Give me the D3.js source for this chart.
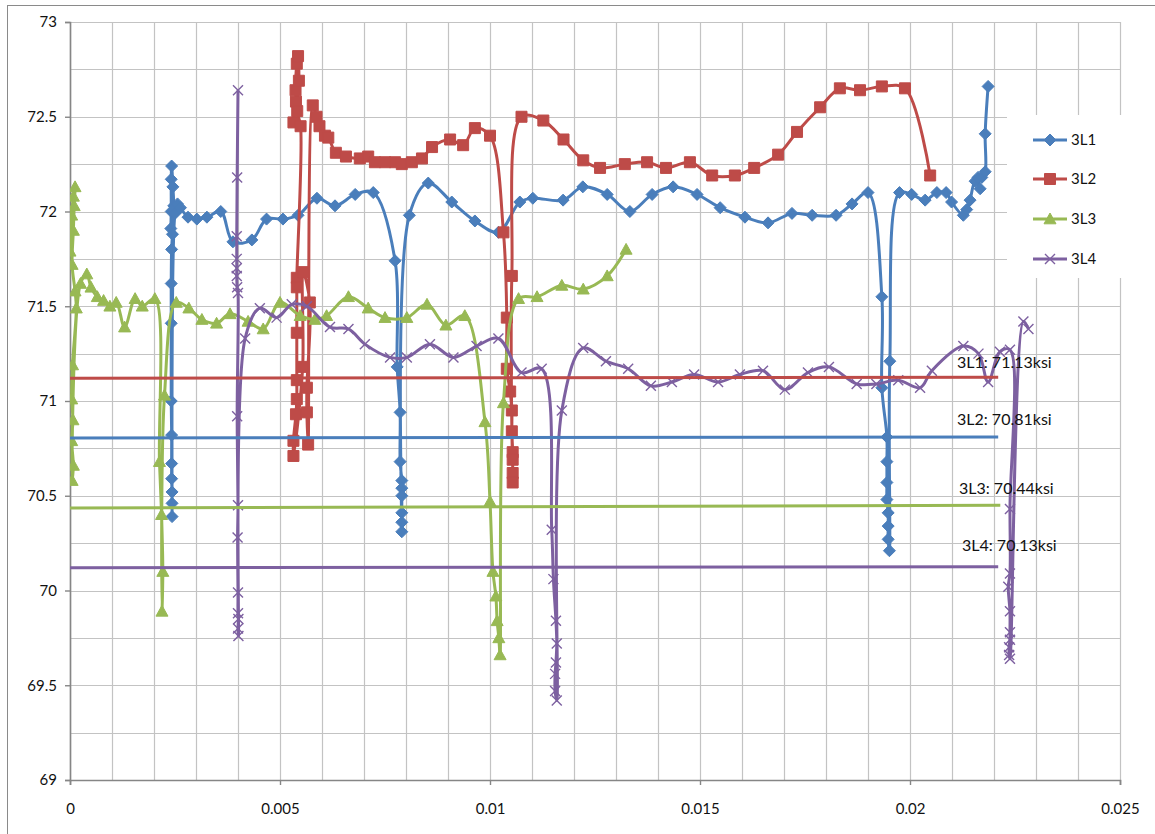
<!DOCTYPE html>
<html><head><meta charset="utf-8">
<script src="https://cdn.jsdelivr.net/npm/d3@7"></script>
<style>body{margin:0;background:#fff;} svg{display:block;font-family:Lato,"Open Sans",sans-serif;}</style>
</head><body><svg id="chart" width="1155" height="834"></svg>
<script>
// ---------- data ----------
const seriesNames = ["3L1", "3L2", "3L3", "3L4"];
const s3L1 = [
[0.00240,71.91],[0.00241,72.00],[0.00241,72.17],[0.00242,72.24],[0.00245,72.13],[0.00247,72.03],[0.00244,71.88],[0.00242,71.80],[0.00241,71.62],[0.00241,71.41],[0.00241,71.00],[0.00242,70.82],[0.00242,70.67],[0.00242,70.59],[0.00243,70.52],[0.00243,70.46],[0.00243,70.39],
[0.00250,71.99],[0.00256,72.04],[0.00263,72.02],[0.00281,71.97],[0.00302,71.96],[0.00326,71.97],[0.00359,72.00],[0.00388,71.84],[0.00433,71.85],[0.00468,71.96],[0.00507,71.96],[0.00543,71.98],[0.00588,72.07],[0.00631,72.03],[0.00679,72.09],[0.00722,72.10],
[0.00774,71.74],[0.00779,71.18],[0.00786,70.94],[0.00786,70.68],[0.00790,70.58],[0.00790,70.54],[0.00790,70.50],[0.00790,70.41],[0.00790,70.36],[0.00790,70.31],
[0.00808,71.98],[0.00853,72.15],[0.00909,72.05],[0.00964,71.95],[0.01020,71.89],[0.01071,72.05],[0.01102,72.07],[0.01174,72.06],[0.01221,72.13],[0.01279,72.09],[0.01333,72.00],[0.01386,72.09],[0.01436,72.13],[0.01493,72.09],[0.01548,72.02],[0.01607,71.97],[0.01662,71.94],[0.01719,71.99],[0.01767,71.98],[0.01824,71.98],[0.01862,72.04],[0.01900,72.10],
[0.01933,71.55],[0.01933,71.07],[0.01945,70.81],[0.01945,70.68],[0.01945,70.57],[0.01945,70.48],[0.01948,70.41],[0.01948,70.34],[0.01948,70.27],[0.01951,70.21],
[0.01952,71.21],[0.01975,72.10],[0.02004,72.09],[0.02036,72.06],[0.02064,72.10],[0.02086,72.10],[0.02099,72.05],[0.02127,71.98],[0.02135,72.01],[0.02143,72.06],[0.02155,72.16],[0.02167,72.12],[0.02162,72.18],[0.02171,72.18],[0.02179,72.21],[0.02179,72.41],[0.02186,72.66]
];
const s3L2 = [
[0.00532,72.47],[0.00538,72.58],[0.00537,72.64],[0.00540,72.78],[0.00543,72.82],[0.00545,72.69],[0.00541,72.53],[0.00549,72.45],
[0.00540,71.65],[0.00540,71.60],[0.00540,71.36],[0.00540,71.11],[0.00540,71.01],[0.00538,70.93],[0.00532,70.79],[0.00532,70.71],
[0.00554,71.18],[0.00555,71.68],[0.00571,71.52],[0.00564,71.07],[0.00564,70.94],[0.00567,70.77],
[0.00578,72.56],[0.00587,72.50],[0.00594,72.45],[0.00607,72.40],[0.00615,72.39],[0.00633,72.31],[0.00657,72.29],[0.00690,72.28],[0.00710,72.29],[0.00726,72.26],[0.00750,72.26],[0.00774,72.26],[0.00790,72.25],[0.00814,72.26],[0.00838,72.28],[0.00862,72.34],[0.00905,72.38],[0.00936,72.35],[0.00964,72.44],[0.01000,72.40],
[0.01032,71.89],[0.01040,71.44],[0.01040,71.17],[0.01048,71.05],[0.01052,70.95],[0.01052,70.84],[0.01054,70.73],[0.01054,70.69],[0.01054,70.62],[0.01054,70.57],
[0.01052,71.66],[0.01075,72.50],[0.01127,72.48],[0.01175,72.38],[0.01222,72.27],[0.01262,72.23],[0.01321,72.25],[0.01374,72.26],[0.01419,72.23],[0.01476,72.26],[0.01529,72.19],[0.01583,72.19],[0.01629,72.23],[0.01686,72.30],[0.01731,72.42],[0.01786,72.55],[0.01833,72.65],[0.01881,72.64],[0.01933,72.66],[0.01988,72.65],[0.02048,72.19]
];
const s3L3 = [
[0.00000,71.79],[0.00004,71.98],[0.00008,72.08],[0.00012,72.13],[0.00010,72.03],[0.00008,71.90],[0.00005,71.72],[0.00012,71.58],[0.00015,71.49],[0.00006,71.19],[0.00004,71.01],[0.00007,70.90],[0.00004,70.79],[0.00008,70.66],[0.00005,70.58],
[0.00025,71.62],[0.00040,71.67],[0.00050,71.60],[0.00065,71.55],[0.00080,71.53],[0.00095,71.50],[0.00110,71.52],[0.00130,71.39],[0.00155,71.54],[0.00172,71.50],[0.00202,71.54],
[0.00213,70.68],[0.00218,70.40],[0.00221,70.10],[0.00219,69.89],[0.00225,71.03],
[0.00253,71.52],[0.00283,71.49],[0.00314,71.43],[0.00349,71.41],[0.00381,71.46],[0.00424,71.42],[0.00460,71.38],[0.00500,71.52],[0.00548,71.45],[0.00583,71.43],[0.00611,71.45],[0.00663,71.55],[0.00710,71.49],[0.00750,71.44],[0.00802,71.44],[0.00850,71.51],[0.00895,71.40],[0.00940,71.45],
[0.00988,70.89],[0.01000,70.47],[0.01007,70.10],[0.01014,69.97],[0.01017,69.84],[0.01021,69.75],[0.01024,69.66],[0.01032,70.99],
[0.01068,71.54],[0.01112,71.55],[0.01171,71.61],[0.01222,71.59],[0.01279,71.66],[0.01324,71.80]
];
const s3L4 = [
[0.00400,72.64],[0.00398,72.18],[0.00397,71.87],[0.00397,71.75],[0.00397,71.70],[0.00397,71.66],[0.00398,71.60],[0.00400,71.57],[0.00398,70.92],[0.00400,70.45],[0.00399,70.28],[0.00400,69.99],[0.00400,69.88],[0.00401,69.85],[0.00400,69.80],[0.00401,69.76],
[0.00417,71.33],[0.00452,71.49],[0.00492,71.44],[0.00528,71.51],[0.00564,71.50],[0.00619,71.39],[0.00663,71.38],[0.00702,71.30],[0.00762,71.23],[0.00802,71.23],[0.00857,71.30],[0.00913,71.23],[0.00968,71.29],[0.01020,71.33],[0.01075,71.15],[0.01123,71.17],
[0.01147,70.32],[0.01151,70.06],[0.01157,69.84],[0.01159,69.72],[0.01157,69.62],[0.01155,69.56],[0.01155,69.47],[0.01159,69.42],
[0.01171,70.95],[0.01222,71.28],[0.01276,71.21],[0.01329,71.17],[0.01383,71.08],[0.01433,71.10],[0.01486,71.14],[0.01543,71.10],[0.01595,71.14],[0.01650,71.16],[0.01702,71.06],[0.01757,71.15],[0.01807,71.18],[0.01873,71.09],[0.01920,71.09],[0.01972,71.11],[0.02024,71.07],[0.02052,71.16],[0.02127,71.29],[0.02163,71.25],[0.02186,71.10],[0.02214,71.26],[0.02238,71.27],
[0.02238,70.43],[0.02238,70.09],[0.02234,70.02],[0.02238,69.89],[0.02238,69.78],[0.02238,69.74],[0.02236,69.70],[0.02236,69.66],[0.02238,69.64],
[0.02270,71.42],[0.02282,71.38]
];
// average-strength reference lines
const refLabels = ["3L1: 71.13ksi", "3L2: 70.81ksi", "3L3: 70.44ksi", "3L4: 70.13ksi"];
const refStartX = [0, 0, 0, 0];
const refEndX = [0.0221, 0.0221, 0.02215, 0.0221];
const refStartY = [71.12, 70.805, 70.435, 70.12];
const refEndY = [71.125, 70.81, 70.45, 70.125];
// axes
const xTicks = [0, 0.005, 0.01, 0.015, 0.02, 0.025];
const xTickLabels = ["0", "0.005", "0.01", "0.015", "0.02", "0.025"];
const yTicks = [69, 69.5, 70, 70.5, 71, 71.5, 72, 72.5, 73];
const yTickLabels = ["69", "69.5", "70", "70.5", "71", "71.5", "72", "72.5", "73"];

// ---------- drawing ----------
const svg = d3.select("#chart");
const colors = ["#4A7EBB", "#BE4B48", "#98B954", "#7D60A0"];
const refColors = ["#BE4B48", "#4A7EBB", "#98B954", "#7D60A0"];
const x = d3.scaleLinear().domain([0, 0.025]).range([70, 1120]);
const y = d3.scaleLinear().domain([69, 73]).range([780, 22]);

// outer chart border
svg.append("rect").attr("x", 7.5).attr("y", 5.5).attr("width", 1160).attr("height", 850)
  .attr("fill", "#fff").attr("stroke", "#8a8a8a").attr("stroke-width", 1);

// gridlines
const gx = d3.range(0, 26).map(i => i * 0.001);
const gy = d3.range(0, 17).map(i => 69 + i * 0.25);
const grid = svg.append("g").attr("stroke", "#c3c3c3").attr("stroke-width", 1.2);
grid.selectAll(".v").data(gx).join("line")
  .attr("x1", d => Math.round(x(d)) + 0.5).attr("x2", d => Math.round(x(d)) + 0.5)
  .attr("y1", y(73)).attr("y2", y(69));
grid.selectAll(".h").data(gy).join("line")
  .attr("y1", d => Math.round(y(d)) + 0.5).attr("y2", d => Math.round(y(d)) + 0.5)
  .attr("x1", x(0)).attr("x2", x(0.025));

// legend background (covers gridlines)
svg.append("rect").attr("x", 1007).attr("y", 115).attr("width", 120).attr("height", 163).attr("fill", "#fff");

// axes
const yAxis = svg.append("g").attr("transform", `translate(${x(0)},0)`)
  .call(d3.axisLeft(y).tickValues(yTicks).tickFormat((d, i) => yTickLabels[i]).tickSize(5).tickPadding(8));
const xAxis = svg.append("g").attr("transform", `translate(0,${y(69)})`)
  .call(d3.axisBottom(x).tickValues(xTicks).tickFormat((d, i) => xTickLabels[i]).tickSize(5).tickPadding(18));
[xAxis, yAxis].forEach(a => {
  a.select(".domain").attr("stroke", "#868686").attr("stroke-width", 1.6);
  a.selectAll(".tick line").attr("stroke", "#868686").attr("stroke-width", 1.4);
  a.selectAll(".tick text").attr("fill", "#111").attr("font-size", 15).attr("font-family", "Lato");
});

// clip
svg.append("clipPath").attr("id", "plotclip").append("rect")
  .attr("x", 70).attr("y", 15).attr("width", 1055).attr("height", 770);

const markerPaths = [
  "M0,-6L6,0L0,6L-6,0Z",
  "M-5.5,-5.5H5.5V5.5H-5.5Z",
  "M0,-6L6,4.8L-6,4.8Z",
  "M-5,-5L5,5M5,-5L-5,5"
];
const line = d3.line().x(d => x(d[0])).y(d => y(d[1])).curve(d3.curveCatmullRom.alpha(0.5));
const plot = svg.append("g").attr("clip-path", "url(#plotclip)");
const allSeries = [s3L1, s3L2, s3L3, s3L4];
allSeries.forEach((data, i) => {
  const g = plot.append("g");
  g.append("path").datum(data).attr("d", line).attr("fill", "none")
    .attr("stroke", colors[i]).attr("stroke-width", 3).attr("stroke-linejoin", "round");
  g.selectAll("path.m").data(data).join("path").attr("class", "m")
    .attr("transform", d => `translate(${x(d[0])},${y(d[1])})`)
    .attr("d", markerPaths[i])
    .attr("fill", i === 3 ? "none" : colors[i])
    .attr("stroke", colors[i]).attr("stroke-width", i === 3 ? 1.4 : 1);
});

// reference lines
refLabels.forEach((lab, i) => {
  plot.append("line").attr("x1", x(refStartX[i])).attr("y1", y(refStartY[i]))
    .attr("x2", x(refEndX[i])).attr("y2", y(refEndY[i]))
    .attr("stroke", refColors[i]).attr("stroke-width", 3);
});
const labelPos = [[957, 368], [957, 425], [959, 494], [962, 551]];
refLabels.forEach((lab, i) => {
  svg.append("text").attr("x", labelPos[i][0]).attr("y", labelPos[i][1])
    .attr("font-size", 16).attr("fill", "#111").text(lab);
});

// legend
const legY = [140, 179, 219, 259];
seriesNames.forEach((n, i) => {
  const g = svg.append("g").attr("transform", `translate(0,${legY[i]})`);
  g.append("line").attr("x1", 1033).attr("x2", 1067).attr("y1", 0).attr("y2", 0)
    .attr("stroke", colors[i]).attr("stroke-width", 3);
  g.append("path").attr("transform", "translate(1050,0)").attr("d", markerPaths[i])
    .attr("fill", i === 3 ? "none" : colors[i]).attr("stroke", colors[i]).attr("stroke-width", i === 3 ? 1.4 : 1);
  g.append("text").attr("x", 1071).attr("y", 5).attr("font-size", 15).attr("fill", "#111").text(n);
});
</script></body></html>
